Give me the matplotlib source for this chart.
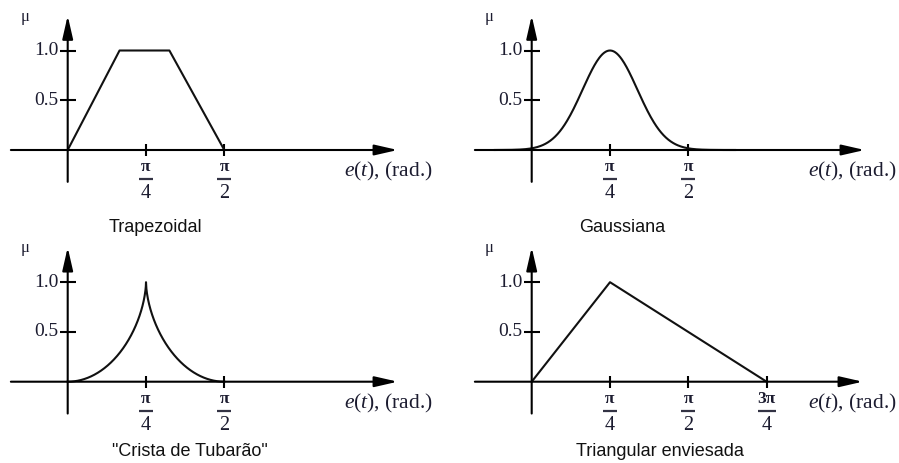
import numpy as np
import matplotlib.pyplot as plt
from matplotlib.transforms import offset_copy

plt.rcParams['font.family'] = ['Liberation Serif', 'DejaVu Serif']
plt.rcParams['mathtext.fontset'] = 'custom'
plt.rcParams['mathtext.rm'] = 'Liberation Serif'
plt.rcParams['mathtext.it'] = 'Liberation Serif:italic'

W, H = 899, 463
PX_RAD = 99.7   # pixels per radian
PX_MU = 99.5    # pixels per unit of membership

text_color = '#1c1c30'
line_color = '#111111'

# membership functions
trap_x = [0, 0.52, 1.02, np.pi / 2]
trap_mu = [0, 1, 1, 0]

gauss_center = np.pi / 4
gauss_sigma = 0.275
gauss_span = (-0.37, 2.04)

shark_peak = np.pi / 4
shark_support = (0, np.pi / 2)
shark_exp = 0.59

tri_x = [0, np.pi / 4, 3 * np.pi / 4]
tri_mu = [0, 1, 0]

y_ticks = [0.5, 1.0]
y_tick_labels = ['0.5', '1.0']
x_ticks_short = [np.pi / 4, np.pi / 2]
x_tick_num_short = ['\u03c0', '\u03c0']
x_tick_den_short = ['4', '2']
x_ticks_long = [np.pi / 4, np.pi / 2, 3 * np.pi / 4]
x_tick_num_long = ['\u03c0', '\u03c0', '3\u03c0']
x_tick_den_long = ['4', '2', '4']

titles = ['Trapezoidal', 'Gaussiana', '"Crista de Tubar\u00e3o"', 'Triangular enviesada']


def make_panel(fig, box, origin):
    x0, y0, x1, y1 = box
    ox, oy = origin
    ax = fig.add_axes([x0 / W, 1 - y1 / H, (x1 - x0) / W, (y1 - y0) / H])
    ax.set_xlim((x0 - ox) / PX_RAD, (x1 - ox) / PX_RAD)
    ax.set_ylim((oy - y1) / PX_MU, (oy - y0) / PX_MU)
    ax.axis('off')
    return ax


def draw_frame(fig, ax, ticks, nums, dens, x_end):
    arrow = dict(arrowstyle='-|>,head_length=1.4,head_width=0.32', color='black',
                 lw=1.5, shrinkA=0, shrinkB=0)
    ax.annotate('', xy=(x_end, 0), xytext=(-0.57, 0), arrowprops=arrow)
    ax.annotate('', xy=(0, 1.35), xytext=(0, -0.32), arrowprops=arrow)

    ax.plot([0] * len(y_ticks), y_ticks, ls='none', marker='_', ms=11.5, mew=1.5,
            color='black')
    for yv, lab in zip(y_ticks, y_tick_labels):
        ax.annotate(lab, xy=(0, yv), xytext=(-9, 0), textcoords='offset pixels',
                    ha='right', va='center', fontsize=14, color=text_color)

    ax.plot(ticks, [0] * len(ticks), ls='none', marker='|', ms=8, mew=1.5,
            color='black')
    bar_tr = offset_copy(ax.transData, fig=fig, x=0, y=-29, units='dots')
    for xv, num, den in zip(ticks, nums, dens):
        ax.annotate(num, xy=(xv, 0), xytext=(0, -17), textcoords='offset pixels',
                    ha='center', va='center', fontsize=12.5, color=text_color,
                    fontweight='bold')
        ax.plot([xv], [0], marker='_', ms=9.5 if len(num) == 1 else 12.5, mew=1.6,
                color='#333344', transform=bar_tr)
        ax.annotate(den, xy=(xv, 0), xytext=(0, -44), textcoords='offset pixels',
                    ha='center', va='center', fontsize=14.5, color=text_color)

    ax.text(-0.43, 1.34, '\u03bc', ha='center', va='center', fontsize=12,
            color=text_color)
    ax.text(3.22, -0.22, r'$e(t)$, (rad.)', ha='center', va='center',
            fontsize=15.5, color=text_color)


fig = plt.figure(figsize=(W / 100, H / 100), dpi=100)

# Trapezoidal
ax = make_panel(fig, (0, 0, 450, 240), (67.7, 150))
draw_frame(fig, ax, x_ticks_short, x_tick_num_short, x_tick_den_short, 3.31)
ax.plot(trap_x, trap_mu, color=line_color, lw=1.5)

# Gaussiana
ax = make_panel(fig, (450, 0, 899, 240), (531.7, 150))
draw_frame(fig, ax, x_ticks_short, x_tick_num_short, x_tick_den_short, 3.34)
xg = np.linspace(gauss_span[0], gauss_span[1], 300)
ax.plot(xg, np.exp(-0.5 * ((xg - gauss_center) / gauss_sigma) ** 2),
        color=line_color, lw=1.5)

# Crista de Tubarao: two elliptic-like flanks meeting in a cusp
ax = make_panel(fig, (0, 240, 450, 463), (67.7, 381.7))
draw_frame(fig, ax, x_ticks_short, x_tick_num_short, x_tick_den_short, 3.31)
r = np.linspace(0, 1, 400)
flank = 1 - (1 - r ** 2) ** shark_exp
x_left = shark_support[0] + r * (shark_peak - shark_support[0])
x_right = shark_support[1] - r[::-1] * (shark_support[1] - shark_peak)
ax.plot(np.concatenate([x_left, x_right]), np.concatenate([flank, flank[::-1]]),
        color=line_color, lw=1.5)

# Triangular enviesada
ax = make_panel(fig, (450, 240, 899, 463), (531.7, 381.7))
draw_frame(fig, ax, x_ticks_long, x_tick_num_long, x_tick_den_long, 3.32)
ax.plot(tri_x, tri_mu, color=line_color, lw=1.5)

title_pos = [(155, 228), (622, 228), (190, 451), (660, 451)]
for (tx, ty), title in zip(title_pos, titles):
    fig.text(tx / W, 1 - ty / H, title, ha='center', va='center', fontsize=13,
             family='Liberation Sans', color='#111111')

fig.savefig('out.png', dpi=100)
